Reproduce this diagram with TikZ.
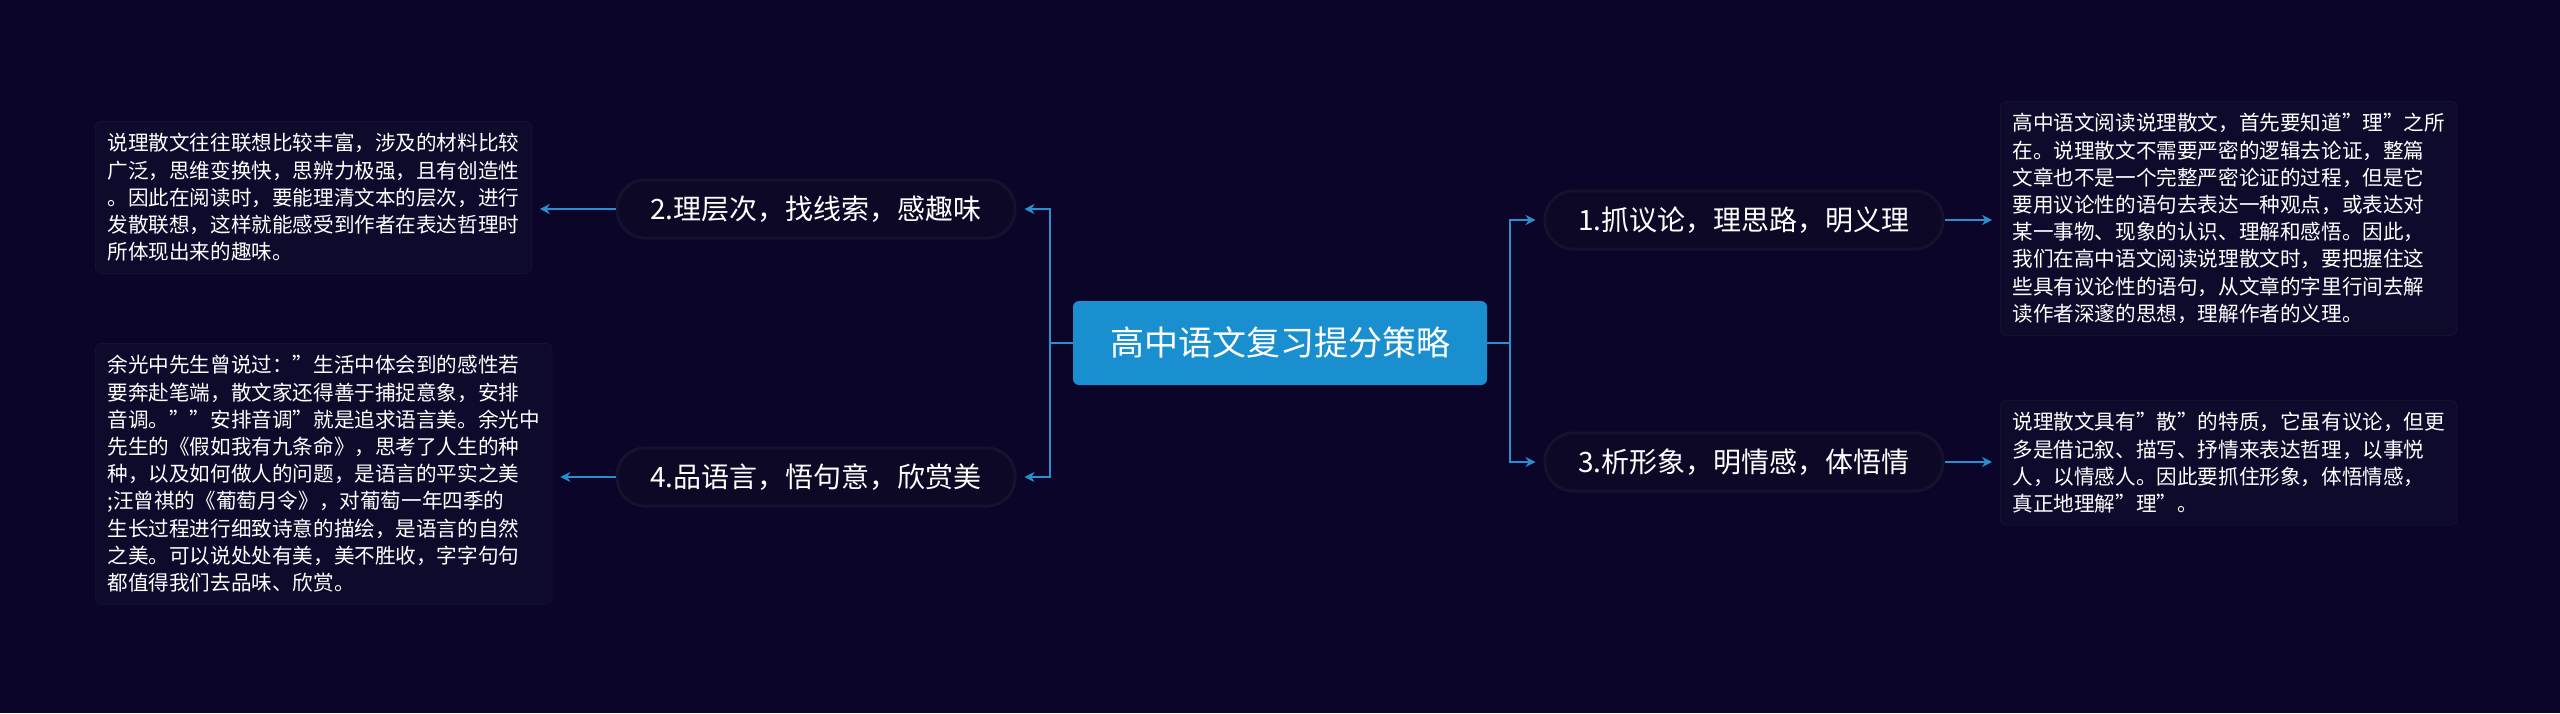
\documentclass[tikz,border=0pt]{standalone}
\usepackage{fontspec}
\setmainfont{Noto Sans CJK SC}
\usetikzlibrary{arrows.meta,positioning}
\definecolor{bgdark}{HTML}{0B0629}
\definecolor{nodefill}{HTML}{0C0826}
\definecolor{leaffill}{HTML}{0D0A2C}
\definecolor{rimdark}{HTML}{15122E}
\definecolor{linkblue}{HTML}{2A8FD0}
\definecolor{rootblue}{HTML}{1A8FD0}

\begin{document}
\begin{tikzpicture}[x=0.5pt,y=-0.5pt,
  root/.style={fill=rootblue,rounded corners=3pt,text=white,font=\fontsize{17}{20}\selectfont,minimum width=207pt,minimum height=42pt},
  branch/.style={fill=nodefill,draw=rimdark,line width=1.5pt,rounded corners=14pt,text=white,font=\fontsize{14}{17}\selectfont,minimum width=199pt,minimum height=29pt},
  leaf/.style={fill=leaffill,draw=rimdark,rounded corners=3pt,text=white,font=\fontsize{10.3}{13.6}\selectfont,align=left,inner sep=6pt},
  link/.style={draw=linkblue,line width=1.2pt,-{Stealth[length=5pt,width=5pt]}}]
  \fill[bgdark] (0,0) rectangle (2560,713);
  \useasboundingbox (0,0) rectangle (2560,713);

  %centre
  \node[root] (root) at (1280,343) {高中语文复习提分策略};

  %left side
  \node[branch] (lyc) at (816,209) {2.理层次，找线索，感趣味};
  \node[branch] (pyy) at (816,477) {4.品语言，悟句意，欣赏美};
  \node[leaf,anchor=north west] (lycText) at (95,121) {说理散文往往联想比较丰富，涉及的材料比较\\广泛，思维变换快，思辨力极强，且有创造性\\。因此在阅读时，要能理清文本的层次，进行\\发散联想，这样就能感受到作者在表达哲理时\\所体现出来的趣味。};
  \node[leaf,anchor=north west] (pyyText) at (95,343) {余光中先生曾说过："生活中体会到的感性若\\要奔赴笔端，散文家还得善于捕捉意象，安排\\音调。""安排音调"就是追求语言美。余光中\\先生的《假如我有九条命》，思考了人生的种\\种，以及如何做人的问题，是语言的平实之美\\;汪曾祺的《葡萄月令》，对葡萄一年四季的\\生长过程进行细致诗意的描绘，是语言的自然\\之美。可以说处处有美，美不胜收，字字句句\\都值得我们去品味、欣赏。};

  %right side
  \node[branch] (zyl) at (1744,220) {1.抓议论，理思路，明义理};
  \node[branch] (xxx) at (1744,462) {3.析形象，明情感，体悟情};
  \node[leaf,anchor=north west] (zylText) at (2000,101) {高中语文阅读说理散文，首先要知道"理"之所\\在。说理散文不需要严密的逻辑去论证，整篇\\文章也不是一个完整严密论证的过程，但是它\\要用议论性的语句去表达一种观点，或表达对\\某一事物、现象的认识、理解和感悟。因此，\\我们在高中语文阅读说理散文时，要把握住这\\些具有议论性的语句，从文章的字里行间去解\\读作者深邃的思想，理解作者的义理。};
  \node[leaf,anchor=north west] (xxxText) at (2000,400) {说理散文具有"散"的特质，它虽有议论，但更\\多是借记叙、描写、抒情来表达哲理，以事悦\\人，以情感人。因此要抓住形象，体悟情感，\\真正地理解"理"。};

  %connectors
  \coordinate (lj) at (1050,343);
  \coordinate (rj) at (1510,343);
  \draw[link] (root.west) -- (lj) |- ([xshift=4pt]lyc.east);
  \draw[link] (lj) |- ([xshift=4pt]pyy.east);
  \draw[link] (root.east) -- (rj) |- ([xshift=-4pt]zyl.west);
  \draw[link] (rj) |- ([xshift=-4pt]xxx.west);
  \draw[link] (lyc.west) -- ([xshift=4pt]lyc.west -| lycText.east);
  \draw[link] (pyy.west) -- ([xshift=4pt]pyy.west -| pyyText.east);
  \draw[link] (zyl.east) -- ([xshift=-4pt]zyl.east -| zylText.west);
  \draw[link] (xxx.east) -- ([xshift=-4pt]xxx.east -| xxxText.west);
\end{tikzpicture}
\end{document}
